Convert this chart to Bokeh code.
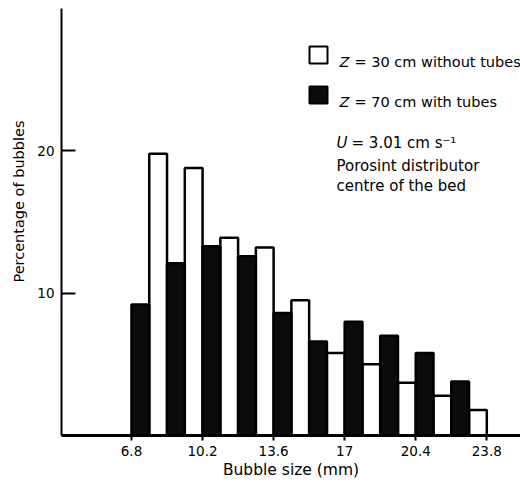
import math
from bokeh.plotting import figure
from bokeh.models import Label, BoxAnnotation, FixedTicker, Title
from bokeh.embed import file_html
from bokeh.resources import INLINE

# ---- data ----
bin_start = [6.8, 8.5, 10.2, 11.9, 13.6, 15.3, 17.0, 18.7, 20.4, 22.1]
with_tubes_70cm = [9.2, 12.1, 13.3, 12.6, 8.6, 6.6, 8.0, 7.0, 5.8, 3.8]
without_tubes_30cm = [19.8, 18.8, 13.9, 13.2, 9.5, 5.8, 5.0, 3.7, 2.8, 1.8]
x_ticks = [6.8, 10.2, 13.6, 17.0, 20.4, 23.8]
x_tick_labels = ["6.8", "10.2", "13.6", "17", "20.4", "23.8"]
y_ticks = [10, 20]
y_tick_labels = ["10", "20"]
bin_width = 1.7

FONT = "DejaVu Sans"

# ---- layout (page pixels -> data) ----
W, H = 520, 483
F_LEFT, F_TOP, F_RIGHT, F_BOTTOM = 61, 8, 520, 435
PPX = 20.9
X_START = 6.8 - (131 - F_LEFT) / PPX
X_END = X_START + (F_RIGHT - F_LEFT) / PPX
Y_END = 30
PPY = (F_BOTTOM - F_TOP) / Y_END


def X(px):
    return X_START + (px - F_LEFT) / PPX


def Y(py):
    return (F_BOTTOM - py) / PPY


p = figure(width=W, height=H, x_range=(X_START, X_END), y_range=(0, Y_END),
           output_backend="svg", toolbar_location=None,
           min_border_left=F_LEFT, min_border_right=W - F_RIGHT,
           min_border_top=F_TOP, min_border_bottom=H - F_BOTTOM)
p.outline_line_color = None
p.xgrid.visible = False
p.ygrid.visible = False
p.background_fill_color = "white"
p.border_fill_color = "white"

half = bin_width / 2
# without tubes (white, right half of each bin)
p.quad(left=[b + half for b in bin_start], right=[b + bin_width for b in bin_start],
       bottom=0, top=without_tubes_30cm, fill_color="white",
       line_color="black", line_width=2.5)
# with tubes (dark, left half of each bin)
p.quad(left=bin_start, right=[b + half for b in bin_start],
       bottom=0, top=with_tubes_70cm, fill_color="#0b0b0b",
       line_color="black", line_width=2.5)

# axes
xa = p.xaxis[0]
xa.ticker = FixedTicker(ticks=x_ticks)
xa.major_label_overrides = {t: l for t, l in zip(x_ticks, x_tick_labels)}
xa.axis_line_width = 3
xa.major_tick_line_width = 2
xa.major_tick_out = 5
xa.major_tick_in = 0
xa.minor_tick_line_color = None
xa.major_label_standoff = 5
xa.major_label_text_font = FONT
xa.major_label_text_font_size = "13.5px"
xa.major_label_text_color = "black"
xa.axis_label = "Bubble size (mm)"
xa.axis_label_standoff = 2
xa.axis_label_text_font = FONT
xa.axis_label_text_font_size = "15.5px"
xa.axis_label_text_font_style = "normal"
xa.axis_label_text_color = "black"

ya = p.yaxis[0]
ya.ticker = FixedTicker(ticks=y_ticks)
ya.major_label_overrides = {t: l for t, l in zip(y_ticks, y_tick_labels)}
ya.axis_line_width = 2
ya.major_tick_line_width = 2
ya.major_tick_in = 14
ya.major_tick_out = 0
ya.minor_tick_line_color = None
ya.major_label_standoff = 7
ya.major_label_text_font = FONT
ya.major_label_text_font_size = "13.5px"
ya.major_label_text_color = "black"

p.add_layout(Title(text="Percentage of bubbles", align="right", offset=112,
                   text_font=FONT, text_font_size="14.5px", text_font_style="normal",
                   text_color="black", standoff=15), "left")

# legend
p.add_layout(BoxAnnotation(left=X(309), right=X(327), top=Y(46), bottom=Y(63),
                           fill_color="white", fill_alpha=1, line_color="black",
                           line_alpha=1, line_width=2))
p.add_layout(BoxAnnotation(left=X(309), right=X(327), top=Y(86), bottom=Y(103),
                           fill_color="#0b0b0b", fill_alpha=1, line_color="black",
                           line_alpha=1, line_width=2))


def txt(px, py, s, italic=False, size="15px"):
    p.add_layout(Label(x=X(px), y=Y(py), text=s, text_align="left", text_baseline="alphabetic",
                       text_font=FONT, text_font_size=size, text_color="black",
                       text_font_style="italic" if italic else "normal"))


txt(339, 61, "Z", italic=True, size="14.5px")
txt(354, 61, "= 30 cm without tubes", size="14.5px")
txt(339, 101, "Z", italic=True, size="14.5px")
txt(354, 101, "= 70 cm with tubes", size="14.5px")
txt(336, 142, "U", italic=True)
txt(351, 142, "= 3.01 cm s\u207b\u00b9")
txt(336, 165, "Porosint distributor")
txt(336, 185, "centre of the bed")

open("out.html", "w").write(file_html(p, INLINE))
